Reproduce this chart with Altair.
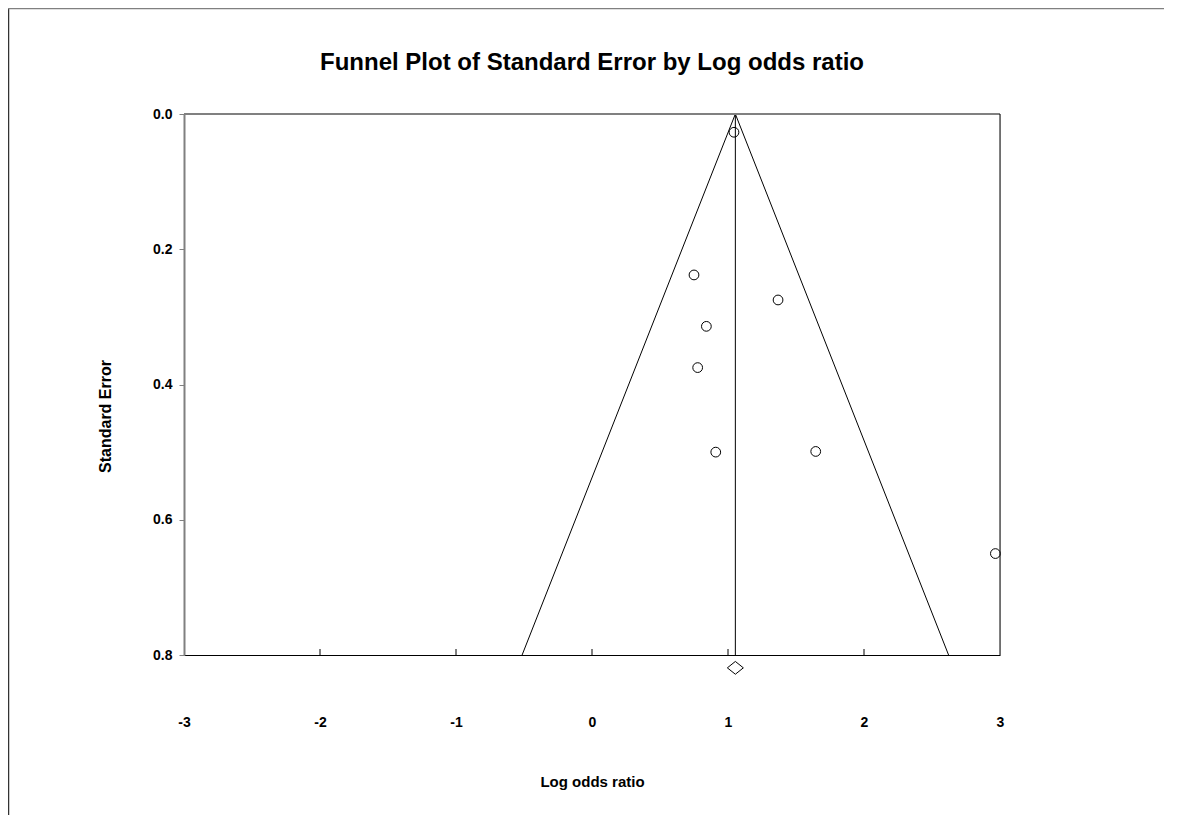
import altair as alt
import pandas as pd

# ---- data ----
log_or = [1.044, 0.750, 1.368, 0.841, 0.777, 0.910, 1.645, 2.966]
std_err = [0.027, 0.238, 0.275, 0.314, 0.375, 0.500, 0.499, 0.650]
summary_x = [1.054]
summary_se = [0.819]
funnel_x = [-0.514, 1.054, 2.622]
funnel_se = [0.8, 0.0, 0.8]
x_ticks = [-3, -2, -1, 0, 1, 2, 3]
inner_x_ticks = [-2, -1, 0, 1, 2]
y_ticks = [0.0, 0.2, 0.4, 0.6, 0.8]

W, H = 816, 541
FONT = "Liberation Sans"
GRAY = "#808080"

xscale = alt.Scale(domain=[x_ticks[0], x_ticks[-1]], nice=False, zero=False)
yscale = alt.Scale(domain=[y_ticks[0], y_ticks[-1]], reverse=True, nice=False, zero=False)

studies = pd.DataFrame({"x": log_or, "se": std_err})
summary = pd.DataFrame({"x": summary_x, "se": summary_se})
funnel = pd.DataFrame({"x": funnel_x, "se": funnel_se, "order": list(range(len(funnel_x)))})
mean_line = pd.DataFrame({"x": summary_x, "se": [y_ticks[0]], "se1": [y_ticks[-1]]})
ticks_df = pd.DataFrame({"x": inner_x_ticks})
top_df = pd.DataFrame({"se": [y_ticks[0]]})
right_df = pd.DataFrame({"x": [x_ticks[-1]]})

x_axis = alt.Axis(
    values=x_ticks, grid=False, ticks=False,
    labelExpr="datum.value < 0 ? '-' + abs(datum.value) : '' + datum.value",
    labelFont=FONT, labelFontSize=14, labelFontWeight="bold", labelColor="black",
    labelPadding=60, labelFlush=False,
    domainColor="black", domainWidth=1,
    title="Log odds ratio", titleFont=FONT, titleFontSize=15, titleFontWeight="bold",
    titleColor="black", titleX=W / 2, titleY=126, titleBaseline="middle",
)
y_axis = alt.Axis(
    values=y_ticks, format=".1f", grid=False,
    tickSize=5, tickColor=GRAY, tickWidth=1,
    labelFont=FONT, labelFontSize=14, labelFontWeight="bold", labelColor="black",
    labelPadding=7, labelFlush=False,
    domainColor=GRAY, domainWidth=2,
    title="Standard Error", titleFont=FONT, titleFontSize=16, titleFontWeight="bold",
    titleColor="black", titleX=-79, titleY=302, titleBaseline="middle", titleAlign="center",
    titleAngle=270,
)


def X(field="x"):
    return alt.X(f"{field}:Q", scale=xscale, axis=x_axis, title="Log odds ratio")


def Y(field="se"):
    return alt.Y(f"{field}:Q", scale=yscale, axis=y_axis, title="Standard Error")


points = alt.Chart(studies).mark_point(
    shape="circle", filled=False, size=95, stroke="black", strokeWidth=1, opacity=1
).encode(x=X(), y=Y())

funnel_lines = alt.Chart(funnel).mark_line(color="black", strokeWidth=1).encode(
    x=X(), y=Y(), order="order:Q",
)

mean_rule = alt.Chart(mean_line).mark_rule(color="black", strokeWidth=1).encode(
    x=X(), y=Y(), y2="se1:Q",
)

diamond = alt.Chart(summary).mark_point(
    shape="M-1,0L0,-0.8L1,0L0,0.8Z", filled=False, size=256,
    stroke="black", strokeWidth=1, opacity=1
).encode(x=X(), y=Y())

inner_ticks = alt.Chart(ticks_df).mark_rule(color="black", strokeWidth=1).encode(
    x=X(), y=alt.value(H), y2=alt.value(H - 6),
)

top_line = alt.Chart(top_df).mark_rule(color=GRAY, strokeWidth=2).encode(
    y=Y(), x=alt.value(0), x2=alt.value(W),
)

right_line = alt.Chart(right_df).mark_rule(color="black", strokeWidth=1).encode(
    x=X(), y=alt.value(0), y2=alt.value(H),
)

frame_left = alt.Chart(top_df).mark_rule(color="#333333", strokeWidth=1.5).encode(
    x=alt.value(-175.5), y=alt.value(-106), y2=alt.value(H + 160),
)
frame_top = alt.Chart(top_df).mark_rule(color=GRAY, strokeWidth=1.5).encode(
    y=alt.value(-105.5), x=alt.value(-176), x2=alt.value(W + 164),
)

chart = alt.layer(
    points, funnel_lines, mean_rule, inner_ticks, top_line, right_line, diamond,
    frame_left, frame_top,
).properties(
    width=W, height=H,
    title=alt.TitleParams(
        "Funnel Plot of Standard Error by Log odds ratio",
        font=FONT, fontSize=24, fontWeight="bold", color="black",
        anchor="middle", frame="group", baseline="middle", offset=-80,
    ),
    autosize=alt.AutoSizeParams(type="none"),
    padding={"left": 176, "top": 106, "right": 164, "bottom": 160},
).configure_view(stroke=None).configure(background="white")

chart.save("out.html", embed_options={"renderer": "svg", "actions": False})
